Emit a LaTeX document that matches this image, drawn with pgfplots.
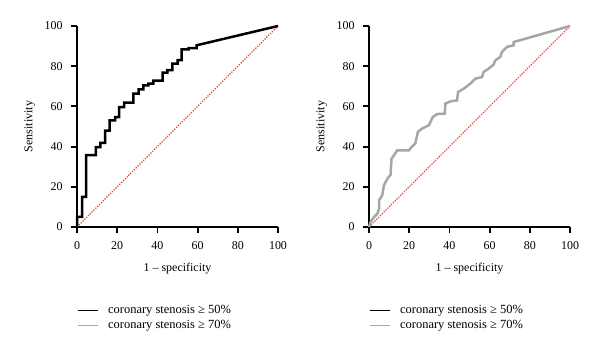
\documentclass[border=0pt]{standalone}
\usepackage{fontspec}
\setmainfont{Liberation Serif}
\usepackage{pgfplots}
\pgfplotsset{compat=1.18}
\definecolor{rocgray}{HTML}{A6A6A6}
\definecolor{diagred}{HTML}{E04A2A}
\pgfplotsset{
  rocaxis/.style={
    scale only axis, width=201bp, height=201bp,
    xmin=0, xmax=100, ymin=0, ymax=100,
    axis lines=left, axis line style={-, line width=2bp},
    xtick={0,20,...,100}, ytick={0,20,...,100},
    tick align=outside, major tick length=6bp,
    tick style={line width=1.8bp, black},
    /pgf/number format/assume math mode=true,
    tick label style={font=\fontsize{12}{13}\selectfont},
    xticklabel style={yshift=-5bp},
    yticklabel style={xshift=-5bp},
    label style={font=\fontsize{12}{13}\selectfont},
    xlabel={1 – specificity}, ylabel={Sensitivity},
    xlabel style={at={(axis description cs:0.5,-0.205)}, anchor=center},
    ylabel style={at={(axis description cs:-0.235,0.5)}, anchor=center},
    clip=false,
    legend style={draw=none, fill=none, at={(0,-0.39)}, anchor=north west,
      inner sep=0pt, font=\fontsize{12.5}{13}\selectfont,
      legend cell align=left,
      nodes={inner sep=0pt}, row sep=5bp, column sep=10bp},
    legend image code/.code={\draw[#1, line width=1bp] (0bp,0bp) -- (20bp,0bp);},
  }
}
\begin{document}
\begin{tikzpicture}[x=1bp,y=1bp]
\useasboundingbox (0,0) rectangle (600,354);
\begin{axis}[rocaxis, at={(77bp,127bp)}, anchor=south west]
\addplot[diagred, line width=1.1bp, dash pattern=on 1.3bp off 1.3bp, forget plot] coordinates {(0,0)(100,100)};
\addplot[black, line width=2.5bp, line join=miter, forget plot] coordinates {
(0,0)(0,5)(2.5,5)(2.5,15)(4.6,15)(4.6,35.7)(9.4,35.7)(9.4,39.8)(11.6,39.8)(11.6,41.8)(14,41.8)(14,48)(16.2,48)(16.2,53)(19,53)(19,54.7)(21,54.7)(21,59.7)(23.5,59.7)(23.5,61.9)(28,61.9)(28,66.3)(30.6,66.3)(30.6,68.5)(33,68.5)(33,70.5)(35.5,70.5)(35.5,71.3)(38,71.3)(38,72.8)(42.6,72.8)(42.6,76.8)(45,76.8)(45,78)(47.4,78)(47.4,81.3)(50,81.3)(50,83)(52,83)(52,88.4)(55.5,88.4)(55.5,89)(59.5,89)(59.5,90.4)(100,100)};
\addlegendimage{black}
\addlegendentry{coronary stenosis ≥ 50\%}
\addlegendimage{rocgray}
\addlegendentry{coronary stenosis ≥ 70\%}
\end{axis}
\begin{axis}[rocaxis, at={(369bp,127bp)}, anchor=south west]
\addplot[diagred, line width=1.1bp, dash pattern=on 1.3bp off 1.3bp, forget plot] coordinates {(0,0)(100,100)};
\addplot[rocgray, line width=2.5bp, forget plot] coordinates {
(0,0)(0.8,2.5)(2.5,5)(4.1,6.6)(5,9)(5,13.3)(6.6,15.8)(7.4,20.7)(9.1,24)(10.7,26)(11.2,34)(12.4,35.7)(14,38.1)(19.8,38.1)(21.2,39.8)(23,41.5)(24.3,47.3)(26.4,49)(29.8,50.6)(31.7,54.7)(33.9,56.2)(37.7,56.4)(38,61.4)(40.5,62.5)(43.8,63)(44.3,67.2)(47.1,68.8)(50.4,71.3)(52.9,73.8)(56.2,74.6)(57,77.1)(59.5,78.8)(62,80.8)(62.8,82.9)(65.3,84.6)(66.1,87)(68.6,89.6)(71.9,90.4)(71.9,92)(100,100)};
\addlegendimage{black}
\addlegendentry{coronary stenosis ≥ 50\%}
\addlegendimage{rocgray}
\addlegendentry{coronary stenosis ≥ 70\%}
\end{axis}
\end{tikzpicture}
\end{document}
